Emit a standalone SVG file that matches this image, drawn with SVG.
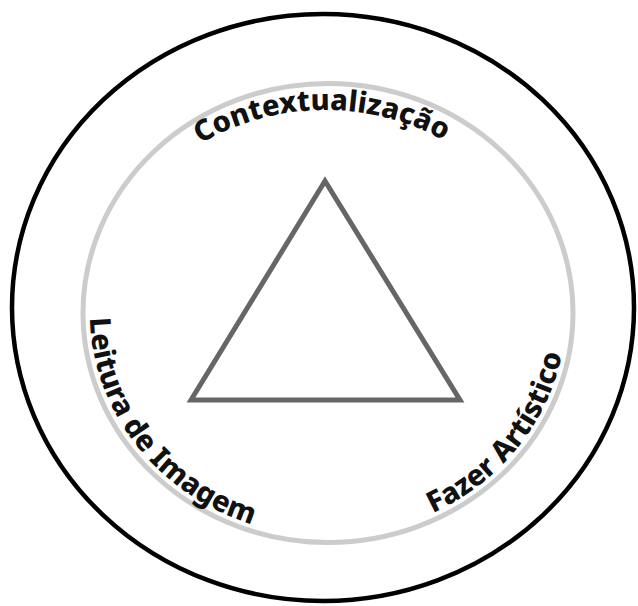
<svg xmlns="http://www.w3.org/2000/svg" xmlns:xlink="http://www.w3.org/1999/xlink" width="638" height="606" viewBox="0 0 638 606">
  <style>
    .lbl { font-family: "Noto Sans", "DejaVu Sans", sans-serif; font-weight: 800; font-size: 29px; fill: #111; }
  </style>
  <defs>
    <path id="pTop" d="M 100 313 A 225 203 0 0 1 550 313"/>
    <path id="pLeft" d="M 90 305 A 238 223 0 0 0 328 536"/>
    <path id="pRight" d="M 328 536 A 238 223 0 0 0 566 313"/>
  </defs>
  <rect width="638" height="606" fill="#fff"/>
  <g id="outer-circle">
    <ellipse cx="323" cy="307.5" rx="311" ry="293.5" fill="none" stroke="#000" stroke-width="4.5"/>
  </g>
  <g id="inner-circle">
    <ellipse cx="328" cy="313" rx="245" ry="229.5" fill="none" stroke="#cccccc" stroke-width="5"/>
  </g>
  <g id="triangle">
    <polygon points="325,181 191,400 460,400" fill="none" stroke="#666" stroke-width="5" stroke-linejoin="miter"/>
  </g>
  <g id="label-contextualizacao">
    <text class="lbl"><textPath href="#pTop" startOffset="49.5%" text-anchor="middle">Contextualização</textPath></text>
  </g>
  <g id="label-leitura">
    <text class="lbl"><textPath href="#pLeft" startOffset="13">Leitura de Imagem</textPath></text>
  </g>
  <g id="label-fazer">
    <text class="lbl"><textPath href="#pRight" startOffset="108">Fazer Artístico</textPath></text>
  </g>
</svg>
